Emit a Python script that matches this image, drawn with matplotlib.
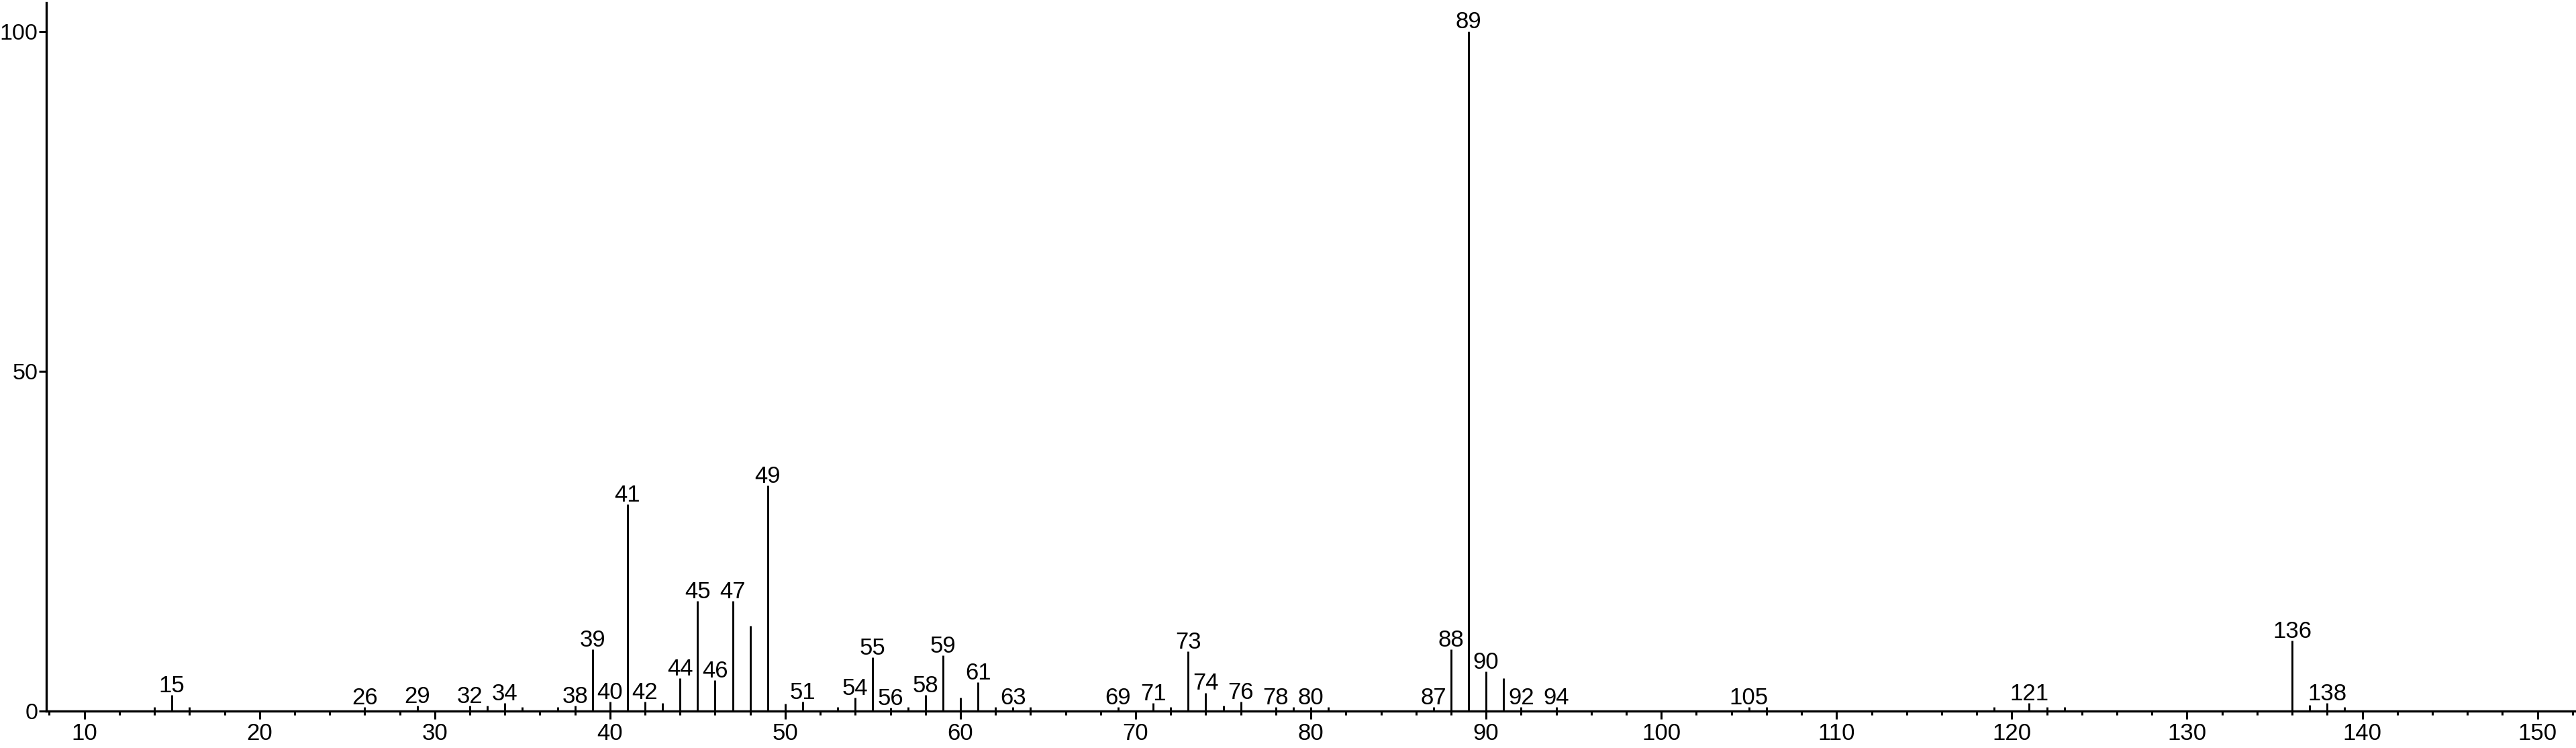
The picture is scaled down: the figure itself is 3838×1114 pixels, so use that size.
import matplotlib
matplotlib.use("Agg")
import matplotlib.pyplot as plt
from matplotlib.ticker import MultipleLocator

plt.rcParams["font.family"] = ["Liberation Sans", "DejaVu Sans"]

# m/z values and relative intensities
mz = [14, 15, 16, 26, 29, 32, 33, 34, 35, 37, 38, 39, 40, 41, 42, 43, 44, 45, 46, 47,
      48, 49, 50, 51, 53, 54, 55, 56, 57, 58, 59, 60, 61, 62, 63, 64, 69, 71, 72, 73,
      74, 75, 76, 78, 79, 80, 81, 87, 88, 89, 90, 91, 92, 94, 105, 106, 119, 121, 122,
      123, 136, 137, 138, 139]
intensity = [0.6, 2.4, 0.6, 0.6, 0.8, 0.8, 0.8, 1.2, 0.6, 0.6, 0.8, 9.1, 1.4, 30.4, 1.4,
             1.2, 4.8, 16.2, 4.5, 16.2, 12.5, 33.2, 1.1, 1.4, 0.6, 2.0, 7.9, 0.5, 0.6, 2.4,
             8.2, 2.0, 4.2, 0.6, 0.6, 0.6, 0.6, 1.15, 0.6, 8.8, 2.7, 0.8, 1.4, 0.6, 0.6,
             0.6, 0.6, 0.6, 9.1, 100, 5.8, 4.8, 0.6, 0.6, 0.6, 0.6, 0.6, 1.15, 0.6, 0.6,
             10.4, 0.9, 1.15, 0.6]

# peaks that carry a m/z label
labelled = [15, 26, 29, 32, 34, 38, 39, 40, 41, 42, 44, 45, 46, 47, 49, 51, 54, 55, 56,
            58, 59, 61, 63, 69, 71, 73, 74, 76, 78, 80, 87, 88, 89, 90, 92, 94, 105, 121,
            136, 138]

fig = plt.figure(figsize=(38.38, 11.14), dpi=100)
ax = fig.add_axes([69 / 3838, 55 / 1114, 1 - 69 / 3838, 1055 / 1114])

ax.vlines(mz, 0, intensity, color="black", linewidth=2.1)

lookup = dict(zip(mz, intensity))
for m in labelled:
    ax.annotate(str(m), (m, lookup[m]), xytext=(0, 3), textcoords="offset points",
                ha="center", va="baseline", fontsize=25, clip_on=False)

ax.set_xlim(7.83, 152.2)
ax.set_ylim(0, 104.2)

ax.spines["top"].set_visible(False)
ax.spines["right"].set_visible(False)
ax.spines["left"].set_linewidth(2.4)
ax.spines["bottom"].set_linewidth(2.4)

ax.xaxis.set_major_locator(MultipleLocator(10))
ax.xaxis.set_minor_locator(MultipleLocator(2))
ax.set_yticks([0, 50, 100])
ax.tick_params(axis="x", which="major", length=8.5, width=2.2, pad=3.5, labelsize=25)
ax.tick_params(axis="x", which="minor", length=4.2, width=2.2)
ax.tick_params(axis="y", which="major", length=8, width=2.2, pad=1, labelsize=24.5)

fig.savefig("out.png", dpi=100)
